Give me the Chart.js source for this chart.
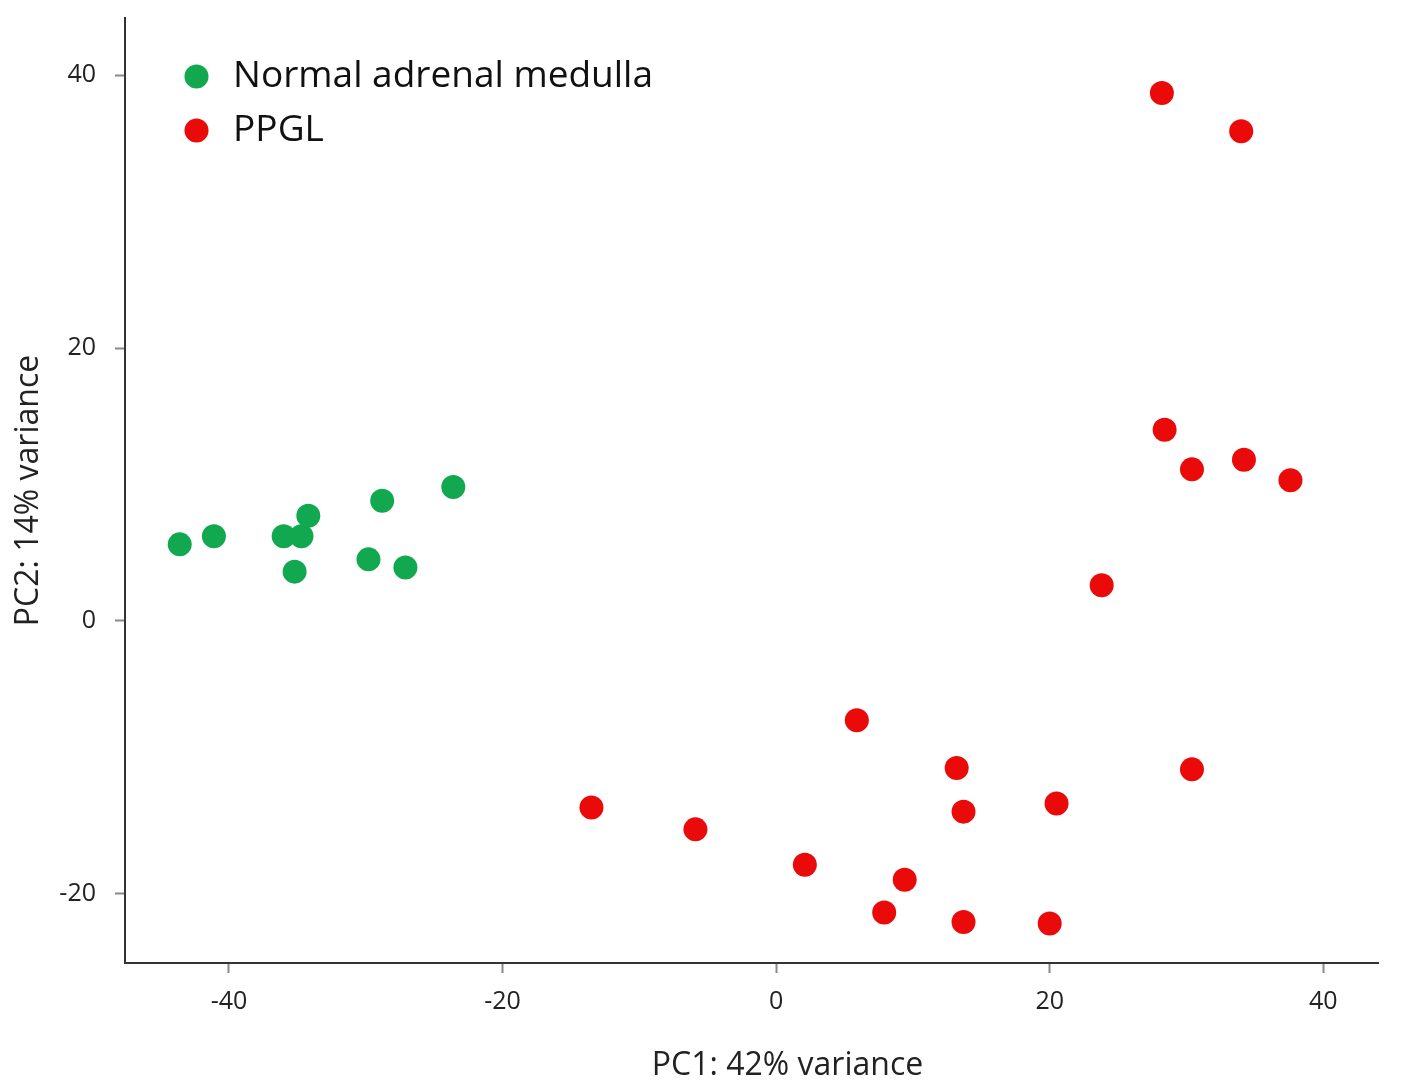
<!DOCTYPE html>
<html>
<head>
<meta charset="utf-8">
<script src="https://cdn.jsdelivr.net/npm/chart.js@4.4.1/dist/chart.umd.min.js"></script>
<style>
  html, body { margin: 0; padding: 0; background: #fff; }
  canvas { display: block; }
</style>
</head>
<body>
<canvas id="grafikPca" width="1418" height="1088"></canvas>
<script>
const normalX = [-43.6, -41.1, -36.0, -34.7, -34.2, -35.2, -29.8, -28.8, -27.1, -23.6];
const normalY = [5.6, 6.2, 6.2, 6.2, 7.7, 3.6, 4.5, 8.8, 3.9, 9.8];
const ppglX = [28.2, 34.0, 28.4, 30.4, 34.2, 37.6, 23.8, 5.9, 13.2, 30.4, -13.5, 13.7, 20.5, -5.9, 2.1, 9.4, 7.9, 13.7, 20.0];
const ppglY = [38.7, 35.9, 14.0, 11.1, 11.8, 10.3, 2.6, -7.3, -10.8, -10.9, -13.7, -14.0, -13.4, -15.3, -17.9, -19.0, -21.4, -22.1, -22.2];
const xTicks = [-40, -20, 0, 20, 40];
const yTicks = [-20, 0, 20, 40];

const toPoints = (xs, ys) => xs.map((x, i) => ({ x: x, y: ys[i] }));
const fixTicks = vals => scale => { scale.ticks = vals.map(v => ({ value: v })); };

const fontFam = "'Open Sans', 'Noto Sans', sans-serif";
const ctx = document.getElementById('grafikPca').getContext('2d');

// legend sits inside the plot, shifted in from the axis;
// x title sits a little right of centre like the original
const layoutTweaks = {
    id: 'layoutTweaks',
    afterLayout(chart) {
        const lg = chart.legend;
        if (lg) {
            const w = lg.right - lg.left, h = lg.bottom - lg.top;
            lg.left = 171;
            lg.top = 41;
            lg.right = lg.left + w;
            lg.bottom = lg.top + h;
        }
        const sx = chart.scales.x;
        if (sx && !sx._titleShifted) {
            const orig = sx.drawTitle;
            sx.drawTitle = function (area) {
                this.ctx.save();
                this.ctx.translate(36, 0);
                orig.call(this, area);
                this.ctx.restore();
            };
            sx._titleShifted = true;
        }
    }
};

const chart = new Chart(ctx, {
    type: 'scatter',
    data: {
        datasets: [{
            label: 'Normal adrenal medulla',
            data: toPoints(normalX, normalY),
            backgroundColor: '#12a84f',
            borderWidth: 0,
            pointRadius: 12,
            pointHoverRadius: 12
        }, {
            label: 'PPGL',
            data: toPoints(ppglX, ppglY),
            backgroundColor: '#ea0a0a',
            borderWidth: 0,
            pointRadius: 12,
            pointHoverRadius: 12
        }]
    },
    plugins: [layoutTweaks],
    options: {
        responsive: false,
        animation: false,
        layout: {
            autoPadding: false,
            padding: { top: 18, right: 40, left: 0, bottom: 0 }
        },
        plugins: {
            tooltip: { enabled: false },
            legend: {
                position: 'chartArea',
                align: 'start',
                labels: {
                    usePointStyle: true,
                    pointStyle: 'circle',
                    boxHeight: 17,
                    boxWidth: 17,
                    color: '#111',
                    padding: 17,
                    font: { family: fontFam, size: 37 },
                    generateLabels: c => Chart.defaults.plugins.legend.labels.generateLabels(c)
                        .map(item => Object.assign(item, { text: ' ' + item.text }))
                }
            }
        },
        scales: {
            x: {
                type: 'linear',
                min: -47.6,
                max: 44.0,
                afterBuildTicks: fixTicks(xTicks),
                afterFit: scale => { scale.height = 125; scale.paddingLeft = 0; scale.paddingRight = 0; },
                grid: {
                    drawOnChartArea: false,
                    drawTicks: true,
                    tickLength: 10,
                    tickWidth: 2,
                    tickColor: '#888'
                },
                border: { display: true, color: '#333', width: 2 },
                ticks: {
                    padding: 14,
                    color: '#222',
                    font: { family: fontFam, size: 25 }
                },
                title: {
                    display: true,
                    text: 'PC1: 42% variance',
                    color: '#222',
                    padding: { top: 0, bottom: 3 },
                    font: { family: fontFam, size: 32 }
                }
            },
            y: {
                type: 'linear',
                min: -25.1,
                max: 44.2,
                afterBuildTicks: fixTicks(yTicks),
                afterFit: scale => { scale.width = 125; scale.paddingTop = 0; scale.paddingBottom = 0; },
                grid: {
                    drawOnChartArea: false,
                    drawTicks: true,
                    tickLength: 10,
                    tickWidth: 2,
                    tickColor: '#888'
                },
                border: { display: true, color: '#333', width: 2 },
                ticks: {
                    padding: 19,
                    color: '#222',
                    font: { family: fontFam, size: 25 }
                },
                title: {
                    display: true,
                    text: 'PC2: 14% variance',
                    color: '#222',
                    padding: { top: 10, bottom: 0 },
                    font: { family: fontFam, size: 32 }
                }
            }
        }
    }
});
</script>
</body>
</html>
